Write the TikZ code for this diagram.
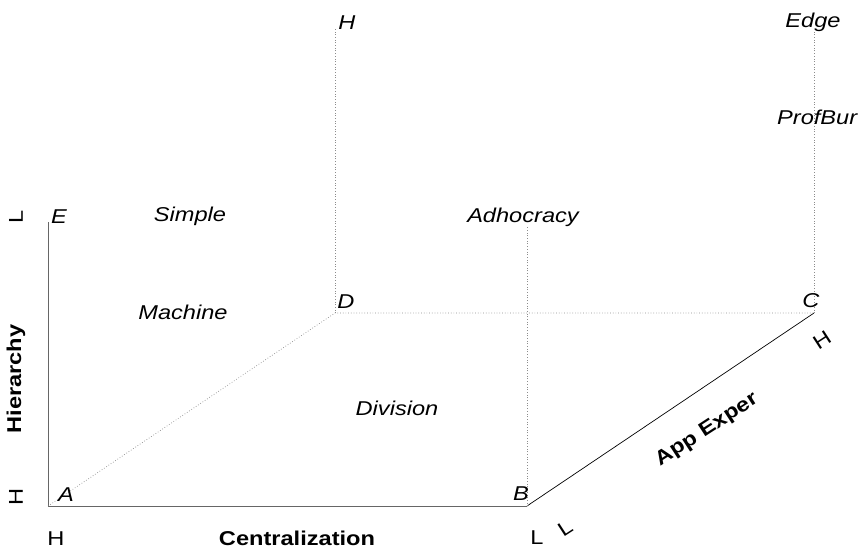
\documentclass[tikz,border=0pt]{standalone}
\usepackage{fontspec}
\setmainfont[FakeStretch=1.18]{Liberation Sans}
\usetikzlibrary{positioning}
\begin{document}
\begin{tikzpicture}[x=1pt,y=-1pt,
  font=\fontsize{20}{24}\selectfont,
  axis/.style={draw=black!60,line width=.9pt},
  guide/.style={draw=black!45,dotted,line width=.7pt},
  corner/.style={font=\fontsize{20}{24}\selectfont\itshape,inner sep=0pt},
  kind/.style={font=\fontsize{20}{24}\selectfont\itshape,inner sep=0pt},
  title/.style={font=\fontsize{20}{24}\selectfont\bfseries,inner sep=0pt},
  tick/.style={inner sep=0pt}]
\useasboundingbox (0,0) rectangle (859,550);
% corners of the base
\coordinate (A) at (48,506);
\coordinate (B) at (527,506);
\coordinate (C) at (814,313);
\coordinate (D) at (335,313);
\coordinate (Etop) at (48,222);
\coordinate (Htop) at (335,28);
\coordinate (Ctop) at (814,32);
\coordinate (Btop) at (527,226);
% axes and guides
\draw[axis] (Etop)--(A)--(B);
\draw[black,line width=.7pt] (B)--(C);
\draw[guide] (A)--(D)--(C);
\draw[guide] (D)--(Htop);
\draw[guide] (C)--(Ctop);
\draw[guide] (B)--(Btop);
% corner letters
\node[corner] (lA) at (66,495) {A};
\node[corner] (lB) at (521,494) {B};
\node[corner] (lC) at (811,301) {C};
\node[corner] (lD) at (346,302) {D};
\node[corner] (lE) at (59,217) {E};
\node[corner] (lH) at (347,23) {H};
% configurations
\node[kind] (simple) at (190,216) {Simple};
\node[kind] (machine) at (183,312) {Machine};
\node[kind] (adhoc) at (523,217) {Adhocracy};
\node[kind] (division) at (397,408) {Division};
\node[kind] (edge) at (813,22) {Edge};
\node[kind,anchor=west] (profbur) at (777,117) {ProfBur};
% axis titles and ends
\node[title,rotate=90] (hier) at (16,379) {Hierarchy};
\node[title] (central) at (297,538) {Centralization};
\node[title,rotate=33] (appexp) at (707,430) {App Exper};
\node[tick,rotate=90] (hierL) at (16,217) {L};
\node[tick,rotate=90] (hierH) at (16,497) {H};
\node[tick] (centH) at (56,539) {H};
\node[tick] (centL) at (537,538) {L};
\node[tick,rotate=33] (appL) at (565,528) {L};
\node[tick,rotate=33] (appH) at (822,340) {H};
\end{tikzpicture}
\end{document}
